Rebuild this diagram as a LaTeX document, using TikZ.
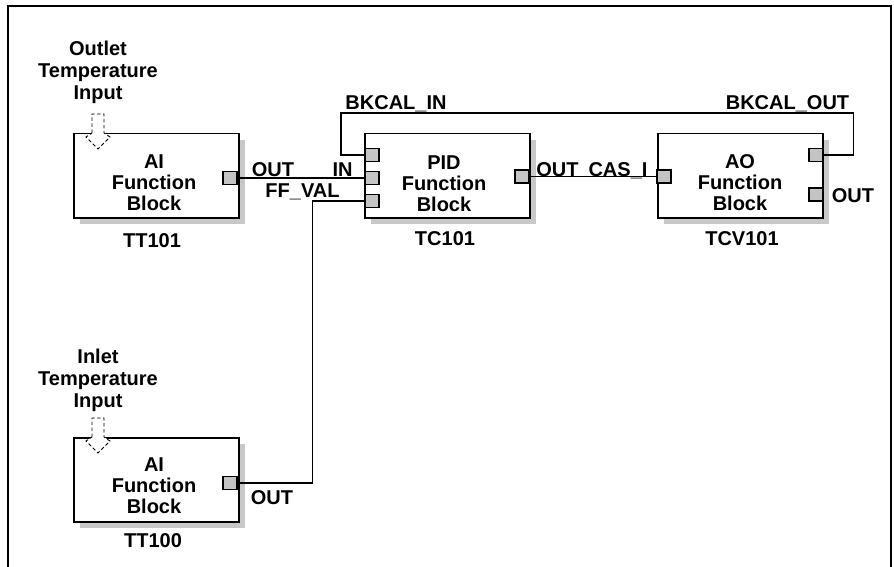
\documentclass[tikz,border=0pt]{standalone}
\usepackage{fontspec}
\setmainfont{Liberation Sans}
\usetikzlibrary{shadows}
\definecolor{shd}{HTML}{C8C8C8}
\definecolor{portc}{HTML}{C4C4C4}
\begin{document}
\begin{tikzpicture}[x=1pt,y=-1pt,
  fblock/.style={draw, line width=1.5pt, fill=white, minimum width=165pt, minimum height=84pt,
    inner sep=0pt, anchor=north west,
    drop shadow={shadow xshift=6pt, shadow yshift=-6pt, fill=shd, opacity=1}},
  port/.style={draw, line width=1.1pt, fill=portc, minimum width=14pt, minimum height=13pt, inner sep=0pt},
  wire/.style={draw, line width=1.3pt},
  lbl/.style={font=\bfseries\fontsize{20}{21}\selectfont, inner sep=0pt, anchor=base},
  btxt/.style={font=\bfseries\fontsize{20}{21}\selectfont, inner sep=0pt, align=center},
  intxt/.style={font=\bfseries\fontsize{20}{22}\selectfont, inner sep=0pt, align=center, anchor=north},
  inarrow/.style={draw, fill=white, line width=0.9pt, dash pattern=on 3.5pt off 2.5pt}
]
\useasboundingbox (0,0) rectangle (894,567);
\fill[white] (0,0) rectangle (894,567);
% frame
\draw[line width=2pt] (8,572) -- (8,6) -- (891,6) -- (891,572);

% blocks
\node[fblock] (tt101) at (73,133) {};
\node[fblock] (tc101) at (364,133) {};
\node[fblock] (tcv101) at (657,133) {};
\node[fblock] (tt100) at (73,437) {};

% block texts
\node[btxt] (tt101t) at (154,182.5) {AI\\Function\\Block};
\node[btxt] (tc101t) at (444,183.5) {PID\\Function\\Block};
\node[btxt] (tcv101t) at (740,182.5) {AO\\Function\\Block};
\node[btxt] (tt100t) at (154,486) {AI\\Function\\Block};

% tags
\node[lbl] (tag1) at (152,247) {TT101};
\node[lbl] (tag2) at (445,245.5) {TC101};
\node[lbl] (tag3) at (742,245.5) {TCV101};
\node[lbl] (tag4) at (153,547) {TT100};

% input arrows
\draw[inarrow] (92,133) -- (92,114) -- (104,114) -- (104,133) -- (110,137) -- (98,149) -- (86,137) -- cycle;
\draw[inarrow] (92,437) -- (92,418) -- (104,418) -- (104,437) -- (110,441) -- (98,453) -- (86,441) -- cycle;
\node[intxt] (lab1) at (98,40.5) {Outlet\\Temperature\\Input};
\node[intxt] (lab2) at (98,349) {Inlet\\Temperature\\Input};

% ports
\node[port] (tt1out) at (230,178) {};
\node[port] (pidbk) at (372,155) {};
\node[port] (pidin) at (372,178) {};
\node[port] (pidff) at (372,201) {};
\node[port] (pidout) at (522,176.5) {};
\node[port] (aoin) at (664,176.5) {};
\node[port] (aobk) at (816,155) {};
\node[port] (aoout) at (816,194.5) {};
\node[port] (tt0out) at (230,483) {};

% connectors
\coordinate (bkl) at (341,113);
\draw[wire] (tt1out.east) -- (pidin.west);
\draw[wire] (tt0out.east) -- ++(75,0) |- (pidff.west);
\draw[wire] (pidout.east) -- (aoin.west);
\draw[wire] (aobk.east) -- ++(30,0) |- (bkl) |- (pidbk.west);

% port labels
\node[lbl] (l1) at (273,176.5) {OUT};
\node[lbl] (l2) at (342.5,176.5) {IN};
\node[lbl] (l3) at (302.5,197) {FF\_VAL};
\node[lbl] (l4) at (396,110) {BKCAL\_IN};
\node[lbl] (l5) at (557.5,176) {OUT};
\node[lbl] (l6) at (618,176) {CAS\_I};
\node[lbl] (l7) at (787.5,110) {BKCAL\_OUT};
\node[lbl] (l8) at (853,202) {OUT};
\node[lbl] (l9) at (272,504) {OUT};
\end{tikzpicture}
\end{document}
